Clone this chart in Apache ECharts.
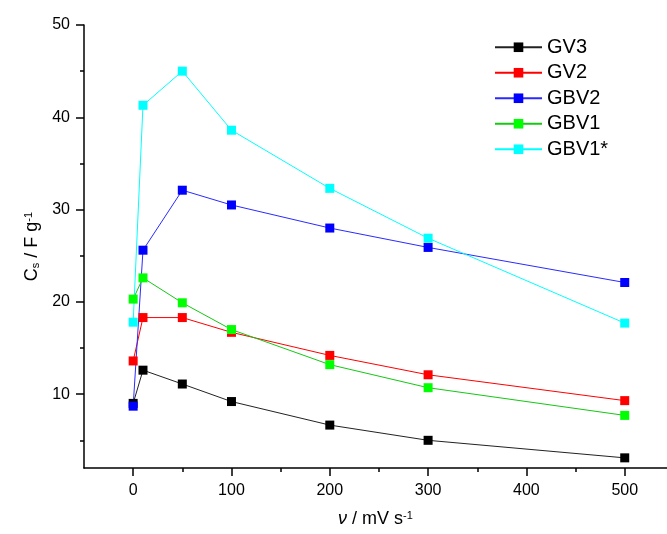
<!DOCTYPE html>
<html>
<head>
<meta charset="utf-8">
<script src="https://cdn.jsdelivr.net/npm/echarts@6/dist/echarts.min.js"></script>
<style>
  html, body { margin: 0; padding: 0; background: #fff; }
  #chart { width: 667px; height: 534px; }
</style>
</head>
<body>
<div id="chart"></div>
<script>
// scan rate (mV/s) shared by every series
const scanRates = [0, 10, 50, 100, 200, 300, 500]
const gv3 = [9.0, 12.6, 11.1, 9.2, 6.65, 5.0, 3.1]
const gv2 = [13.6, 18.3, 18.3, 16.7, 14.2, 12.1, 9.3]
const gbv2 = [8.7, 25.6, 32.1, 30.5, 28.0, 25.9, 22.1]
const gbv1 = [20.3, 22.6, 19.9, 17.0, 13.2, 10.7, 7.7]
const gbv1s = [17.8, 41.3, 45.0, 38.6, 32.3, 26.9, 17.7]

const xMajor = [0, 100, 200, 300, 400, 500]
const xMinor = [50, 150, 250, 350, 450]
const yMajor = [10, 20, 30, 40, 50]
const yMinor = [5, 15, 25, 35, 45]

const font = 'Liberation Sans, Arial, sans-serif'

const chart = echarts.init(document.getElementById('chart'))

// 每条曲线的公共配置
function makeSeries (name, values, color, lineColor) {
  return {
    name: name,
    type: 'line',
    data: scanRates.map((x, i) => [x, values[i]]),
    symbol: 'rect',
    symbolSize: 9,
    itemStyle: { color: color },
    lineStyle: { color: lineColor || color, width: 1 },
    emphasis: { disabled: true },
    animation: false
  }
}

const axisBase = {
  type: 'value',
  axisLine: { show: true, onZero: false, lineStyle: { color: '#000', width: 1.5 } },
  splitLine: { show: false }
}

const option = {
  backgroundColor: '#fff',
  grid: { left: 84, top: 25, right: 0, bottom: 66 },
  legend: {
    orient: 'vertical',
    left: 489,
    top: 32,
    itemWidth: 47,
    itemHeight: 12,
    itemGap: 5,
    textStyle: { fontFamily: font, fontSize: 20, color: '#000', lineHeight: 20.5 },
    data: ['GV3', 'GV2', 'GBV2', 'GBV1', 'GBV1*']
  },
  xAxis: [
    Object.assign({}, axisBase, {
      position: 'bottom',
      min: -50,
      max: 543,
      axisTick: { show: true, length: 8, lineStyle: { color: '#000', width: 1.5 }, customValues: xMajor },
      axisLabel: { customValues: xMajor, margin: 15, fontFamily: font, fontSize: 16, color: '#000' },
      name: '{i|ν}{n| / mV s}{sup|-1}',
      nameLocation: 'middle',
      nameGap: 42,
      nameTextStyle: {
        rich: {
          i: { fontFamily: font, fontSize: 18, fontStyle: 'italic', color: '#000', verticalAlign: 'bottom' },
          n: { fontFamily: font, fontSize: 18, color: '#000', verticalAlign: 'bottom' },
          sup: { fontFamily: font, fontSize: 11, color: '#000', verticalAlign: 'top' }
        }
      }
    }),
    // 次刻度
    Object.assign({}, axisBase, {
      position: 'bottom',
      min: -50,
      max: 543,
      axisLine: { show: false, onZero: false },
      axisTick: { show: true, length: 4, lineStyle: { color: '#000', width: 1.5 }, customValues: xMinor },
      axisLabel: { show: false }
    })
  ],
  yAxis: [
    Object.assign({}, axisBase, {
      position: 'left',
      min: 2,
      max: 50,
      axisTick: { show: true, length: 8, lineStyle: { color: '#000', width: 1.5 }, customValues: yMajor },
      axisLabel: { customValues: yMajor, margin: 14, fontFamily: font, fontSize: 16, color: '#000' },
      name: '{n|C}{sub|s}{n| / F g}{sup|-1}',
      nameLocation: 'middle',
      nameGap: 40,
      nameTextStyle: {
        rich: {
          n: { fontFamily: font, fontSize: 18, color: '#000', verticalAlign: 'bottom' },
          sub: { fontFamily: font, fontSize: 11, color: '#000', verticalAlign: 'bottom' },
          sup: { fontFamily: font, fontSize: 11, color: '#000', verticalAlign: 'top' }
        }
      }
    }),
    Object.assign({}, axisBase, {
      position: 'left',
      min: 2,
      max: 50,
      axisLine: { show: false, onZero: false },
      axisTick: { show: true, length: 4, lineStyle: { color: '#000', width: 1.5 }, customValues: yMinor },
      axisLabel: { show: false }
    })
  ],
  series: [
    makeSeries('GV3', gv3, '#000000', '#222222'),
    makeSeries('GV2', gv2, '#ff0000'),
    makeSeries('GBV2', gbv2, '#0000ff', '#2a2aff'),
    makeSeries('GBV1', gbv1, '#00ff00', '#14c814'),
    makeSeries('GBV1*', gbv1s, '#00ffff')
  ]
}

chart.setOption(option)
</script>
</body>
</html>
